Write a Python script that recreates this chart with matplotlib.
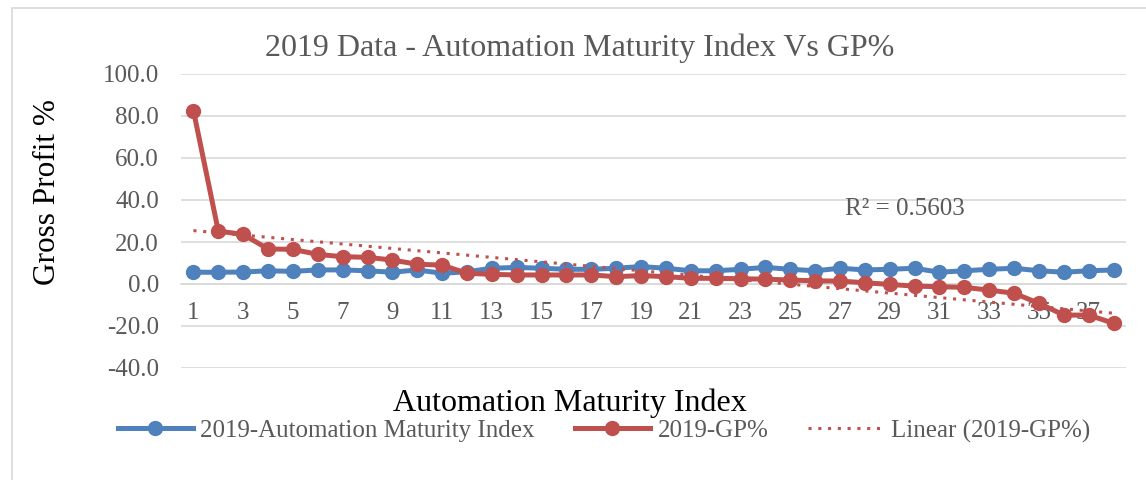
import numpy as np
import matplotlib
matplotlib.use('Agg')
import matplotlib.pyplot as plt
from matplotlib.patches import Rectangle

# data
idx = list(range(1, 39))
ami_2019 = [5.6, 5.6, 5.7, 6.3, 6.0, 6.7, 6.7, 6.3, 5.6, 6.7, 5.1, 5.8, 7.5, 7.9, 7.5, 7.0, 7.0, 7.5, 8.3,
            7.5, 6.3, 6.3, 7.0, 7.9, 7.0, 6.3, 7.5, 6.7, 7.0, 7.5, 5.6, 6.3, 7.0, 7.5, 6.3, 5.6, 6.3, 6.7]
gp_2019 = [82.6, 25.2, 23.6, 16.7, 16.5, 14.1, 13.0, 12.7, 11.4, 9.4, 9.0, 5.1, 4.6, 4.3, 4.3, 4.3, 4.3,
           3.5, 4.0, 3.5, 2.7, 2.7, 2.5, 2.3, 1.9, 1.5, 1.4, 0.6, -0.2, -1.0, -1.3, -1.6, -2.9, -4.4,
           -9.2, -14.8, -14.8, -18.7]
yticks = [-40, -20, 0, 20, 40, 60, 80, 100]
xticks = list(range(1, 39, 2))

blue = '#4F81BD'
red = '#C0504D'
grey = '#595959'
grid = '#D9D9D9'

plt.rcParams['font.family'] = ['Liberation Serif', 'DejaVu Serif']

fig = plt.figure(figsize=(11.46, 4.8), dpi=100)
ax = fig.add_axes([181 / 1146, 1 - 368 / 480, (1126 - 181) / 1146, (368 - 74) / 480])

# chart border
fig.patches.append(Rectangle((12 / 1146, -0.1), 1.2, 1.1 - 8 / 480, transform=fig.transFigure,
                             fill=False, edgecolor=grid, linewidth=1.2))

ax.plot(idx, ami_2019, color=blue, linewidth=3.6, marker='o', markersize=10,
        label='2019-Automation Maturity Index', zorder=3)
ax.plot(idx, gp_2019, color=red, linewidth=3.6, marker='o', markersize=10,
        label='2019-GP%', zorder=4)

# linear trendline of GP%
k, b = np.polyfit(idx, gp_2019, 1)
xs = np.array([1, 38])
ax.plot(xs, k * xs + b, color=red, linewidth=2.2, linestyle=(0, (1, 2.2)),
        label='Linear (2019-GP%)', zorder=5)
ax.text(27.2, 35.5, 'R² = 0.5603', fontsize=18, color=grey, va='center', ha='left')

ax.set_xlim(0.5, 38.5)
ax.set_ylim(-40, 100)
ax.set_yticks(yticks)
ax.set_yticklabels(['%.1f' % v for v in yticks])
ax.set_xticks(xticks)
ax.grid(axis='y', color=grid, linewidth=1.2)
ax.set_axisbelow(True)
for s in ['top', 'right', 'left']:
    ax.spines[s].set_visible(False)
ax.spines['bottom'].set_position(('data', 0))
ax.spines['bottom'].set_color(grid)
ax.spines['bottom'].set_linewidth(1.2)
ax.tick_params(axis='both', length=0, labelsize=18, labelcolor=grey)
ax.tick_params(axis='x', pad=13)
ax.tick_params(axis='y', pad=16)

fig.text(580 / 1146, 1 - 48 / 480, '2019 Data - Automation Maturity Index Vs GP%',
         fontsize=23, color=grey, ha='center', va='center')
fig.text(48 / 1146, 1 - 192 / 480, 'Gross Profit %', fontsize=22.5, rotation=90,
         ha='center', va='center')
fig.text(570 / 1146, 1 - 403 / 480, 'Automation Maturity Index', fontsize=23,
         ha='center', va='center')

fig.legend(loc='center', bbox_to_anchor=(604 / 1146, 1 - 431 / 480), ncol=3, frameon=False,
           fontsize=18, labelcolor=grey, handlelength=3.0, handletextpad=0.3,
           columnspacing=1.6)

fig.savefig('out.png', dpi=100)
